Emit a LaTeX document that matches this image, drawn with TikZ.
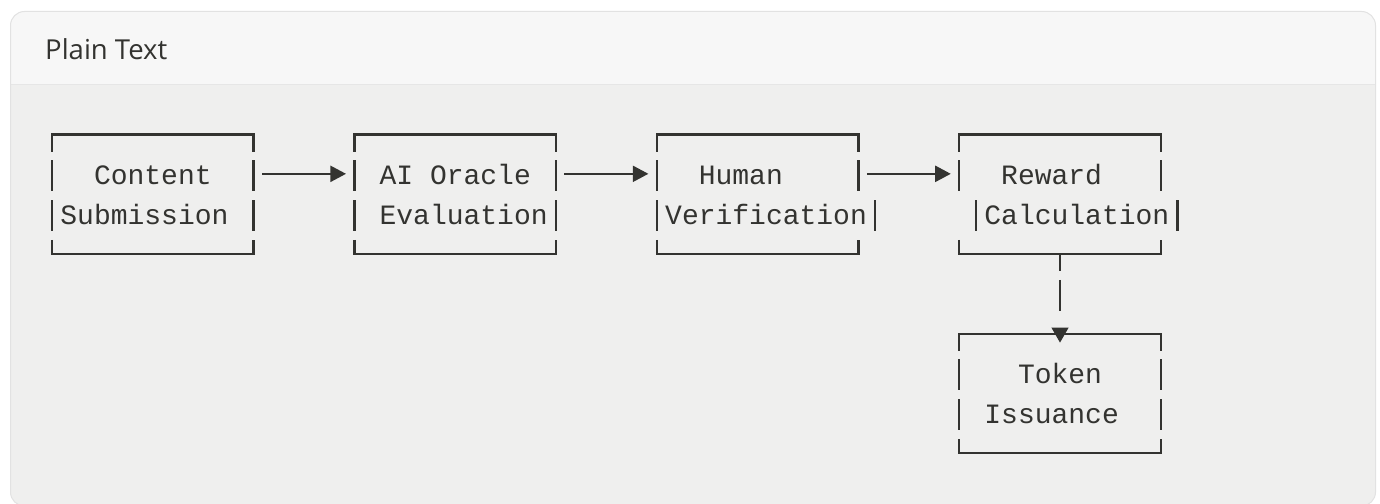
\documentclass[tikz,border=0pt]{standalone}
\usepackage{fontspec}
\setmainfont{Open Sans}
\newfontfamily\codefont{Liberation Mono}
\usetikzlibrary{arrows.meta}

\definecolor{ink}{HTML}{333330}
\definecolor{cardedge}{HTML}{E2E2E2}
\definecolor{headbg}{HTML}{F7F7F7}
\definecolor{bodybg}{HTML}{EFEFEE}
\definecolor{sepline}{HTML}{E6E6E6}

% character grid of the code block (one unit = 1pt)
\newcommand\colc[1]{52+16.8*#1}     % centre of a character cell
\newcommand\coll[1]{43.6+16.8*#1}   % left edge of a character cell
\newcommand\rowtop[1]{120.5+39.83*#1}
\newcommand\rowbase[1]{144.5+39.83*#1}

% box-drawing pieces
\newcommand\topedge[3]{%
  \draw[rule] ({\colc{#1}},{\rowtop{#3}+31}) -- ({\colc{#1}},{\rowtop{#3}+14})
    -- ({\colc{#2}},{\rowtop{#3}+14}) -- ({\colc{#2}},{\rowtop{#3}+31});}
\newcommand\bottomedge[3]{%
  \draw[rule] ({\colc{#1}},{\rowtop{#3}}) -- ({\colc{#1}},{\rowtop{#3}+14})
    -- ({\colc{#2}},{\rowtop{#3}+14}) -- ({\colc{#2}},{\rowtop{#3}});}
\newcommand\sidebar[2]{%
  \draw[rule] ({\colc{#1}},{\rowtop{#2}}) -- ({\colc{#1}},{\rowtop{#2}+31});}

\begin{document}
\begin{tikzpicture}[x=1pt,y=-1pt,
  rule/.style={draw=ink,line width=2.3pt},
  lbl/.style={anchor=base west,inner sep=0pt,outer sep=0pt,text=ink,
    font=\codefont\fontsize{28}{28}\selectfont},
  flow/.style={draw=ink,line width=2.2pt,-{Triangle[length=15.6pt,width=16pt]}},
  dropflow/.style={draw=ink,line width=2.3pt,dash pattern=on 17pt off 8.8pt on 31pt off 30pt,
    -{Triangle[length=15pt,width=16.6pt]}}]

\useasboundingbox (0,0) rectangle (1380,503);
\fill[white] (0,0) rectangle (1380,503);

% card
\begin{scope}
  \clip[rounded corners=14pt] (10.5,11.5) rectangle (1375.5,506);
  \fill[bodybg] (10.5,11.5) rectangle (1375.5,506);
  \fill[headbg] (10.5,11.5) rectangle (1375.5,84);
\end{scope}
\draw[sepline,line width=1pt] (11,84) -- (1375,84);
\draw[cardedge,line width=1pt,rounded corners=14pt] (10.5,11.5) rectangle (1375.5,506);

\node[anchor=base west,inner sep=0pt,text=ink,font=\fontsize{27.5}{30}\selectfont]
  (title) at (45,59.5) {Plain Text};

% Content Submission
\topedge{0}{12}{0}
\sidebar{0}{1}\sidebar{12}{1}
\sidebar{0}{2}\sidebar{12}{2}
\bottomedge{0}{12}{3}
\node[lbl] (content) at ({\coll{3}},{\rowbase{1}}) {Content};
\node[lbl] (submission) at ({\coll{1}},{\rowbase{2}}) {Submission};

% AI Oracle Evaluation
\topedge{18}{30}{0}
\sidebar{18}{1}\sidebar{30}{1}
\sidebar{18}{2}\sidebar{30}{2}
\bottomedge{18}{30}{3}
\node[lbl] (oracle) at ({\coll{20}},{\rowbase{1}}) {AI Oracle};
\node[lbl] (evaluation) at ({\coll{20}},{\rowbase{2}}) {Evaluation};

% Human Verification
\topedge{36}{48}{0}
\sidebar{36}{1}\sidebar{48}{1}
\sidebar{36}{2}\sidebar{49}{2}
\bottomedge{36}{48}{3}
\node[lbl] (human) at ({\coll{39}},{\rowbase{1}}) {Human};
\node[lbl] (verification) at ({\coll{37}},{\rowbase{2}}) {Verification};

% Reward Calculation
\topedge{54}{66}{0}
\sidebar{54}{1}\sidebar{66}{1}
\sidebar{55}{2}\sidebar{67}{2}
\bottomedge{54}{66}{3}
\node[lbl] (reward) at ({\coll{57}},{\rowbase{1}}) {Reward};
\node[lbl] (calculation) at ({\coll{56}},{\rowbase{2}}) {Calculation};

% Token Issuance
\topedge{54}{66}{5}
\sidebar{54}{6}\sidebar{66}{6}
\sidebar{54}{7}\sidebar{66}{7}
\bottomedge{54}{66}{8}
\node[lbl] (token) at ({\coll{58}},{\rowbase{6}}) {Token};
\node[lbl] (issuance) at ({\coll{56}},{\rowbase{7}}) {Issuance};

% connector ends
\coordinate (content-out)  at ({\coll{13}},{\rowtop{1}+13.5});
\coordinate (oracle-in)    at ({\coll{18}},{\rowtop{1}+13.5});
\coordinate (oracle-out)   at ({\coll{31}},{\rowtop{1}+13.5});
\coordinate (human-in)     at ({\coll{36}},{\rowtop{1}+13.5});
\coordinate (human-out)    at ({\coll{49}},{\rowtop{1}+13.5});
\coordinate (reward-in)    at ({\coll{54}},{\rowtop{1}+13.5});
\coordinate (reward-out)   at ({\colc{60}},{\rowtop{3}+14});
\coordinate (token-in)     at ({\colc{60}},{\rowtop{5}+23});

\draw[flow] (content-out) -- (oracle-in);
\draw[flow] (oracle-out) -- (human-in);
\draw[flow] (human-out) -- (reward-in);
\draw[dropflow] (reward-out) -- (token-in);
\end{tikzpicture}
\end{document}
